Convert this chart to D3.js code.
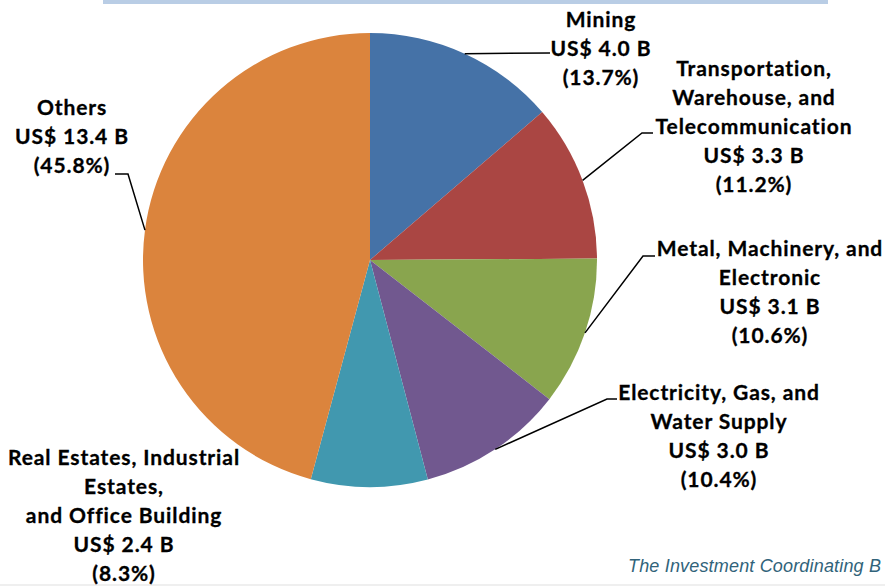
<!doctype html>
<html lang="en">
<head>
<meta charset="UTF-8">
<title>Investment by Sector</title>
<script src="https://d3js.org/d3.v7.min.js"></script>
<style>
  body { margin: 0; background: #fff; }
</style>
</head>
<body>
<div id="chart-area"></div>
<script>
const chartW = 885;
const chartH = 586;

// data
const sectors = [
    ['Mining'],
    ['Transportation,', 'Warehouse, and', 'Telecommunication'],
    ['Metal, Machinery, and', 'Electronic'],
    ['Electricity, Gas, and', 'Water Supply'],
    ['Real Estates, Industrial', 'Estates,', 'and Office Building'],
    ['Others']
];
const valuesB  = [4.0, 3.3, 3.1, 3.0, 2.4, 13.4];
const percents = [13.7, 11.2, 10.6, 10.4, 8.3, 45.8];
const colors   = ['#4572A7', '#AA4643', '#89A54E', '#71588F', '#4198AF', '#DB843D'];

// label layout: text centre x, first baseline, leader elbow points (null = no leader)
const labelLayout = [
    { x: 601, y: 27,  leader: [[550, 53]] },
    { x: 754, y: 76,  leader: [[642, 133], [653, 133]] },
    { x: 770, y: 256, leader: [[643, 256], [655, 256]] },
    { x: 719, y: 400, leader: [[607, 399], [617, 399]] },
    { x: 124, y: 465, leader: null },
    { x: 72,  y: 115, leader: [[128, 174], [115, 174]] }
];

const cx = 370, cy = 260, radius = 227;
const lineGap = 29;

const svg = d3.select('#chart-area')
    .append('svg')
    .attr('width', chartW)
    .attr('height', chartH);

// top border band
svg.append('rect')
    .attr('x', 103).attr('y', 0)
    .attr('width', 725).attr('height', 4)
    .attr('fill', '#b9cde5');

svg.append('rect')
    .attr('x', 0).attr('y', 584)
    .attr('width', chartW).attr('height', 2)
    .attr('fill', '#efefef');

const pie = d3.pie()
    .sort(null)
    .value(d => d);

const arcs = pie(percents);

const arc = d3.arc()
    .innerRadius(0)
    .outerRadius(radius);

const g = svg.append('g')
    .attr('transform', `translate(${cx},${cy})`);

g.selectAll('path')
    .data(arcs)
    .enter()
    .append('path')
        .attr('d', arc)
        .attr('fill', (d, i) => colors[i]);

// leader lines, starting on the pie edge at the slice's mid angle
arcs.forEach((a, i) => {
    const lay = labelLayout[i];
    if (!lay.leader) return;
    const mid = (a.startAngle + a.endAngle) / 2;
    const start = [cx + radius * Math.sin(mid), cy - radius * Math.cos(mid)];
    svg.append('path')
        .attr('d', d3.line()([start, ...lay.leader]))
        .attr('fill', 'none')
        .attr('stroke', '#000')
        .attr('stroke-width', 1.5);
});

// labels
sectors.forEach((lines, i) => {
    const lay = labelLayout[i];
    const all = lines.concat([`US$ ${valuesB[i].toFixed(1)} B`, `(${percents[i].toFixed(1)}%)`]);
    const t = svg.append('text')
        .attr('text-anchor', 'middle')
        .attr('font-family', 'Lato, "Open Sans", sans-serif')
        .attr('font-weight', 'bold')
        .attr('font-size', 21)
        .attr('letter-spacing', 0.9)
        .attr('fill', '#000')
        .attr('stroke', '#000')
        .attr('stroke-width', 0.3);
    all.forEach((s, k) => {
        t.append('tspan')
            .attr('x', lay.x)
            .attr('y', lay.y + k * lineGap)
            .text(s);
    });
});

svg.append('text')
    .attr('x', 628)
    .attr('y', 572)
    .attr('font-family', '"Liberation Sans", Arial, sans-serif')
    .attr('font-style', 'italic')
    .attr('font-size', 18)
    .attr('textLength', 253)
    .attr('lengthAdjust', 'spacing')
    .attr('fill', '#31637a')
    .text('The Investment Coordinating B');
</script>
</body>
</html>
